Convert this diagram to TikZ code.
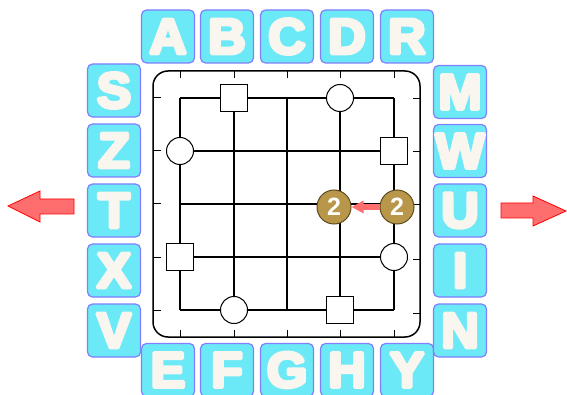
\documentclass[tikz,border=0pt]{standalone}
\usepackage{fontspec}
\usepackage{tikz}
\usetikzlibrary{arrows.meta, positioning}
\setsansfont{Liberation Sans}
\newfontfamily\tilefont{Liberation Sans}[FakeStretch=1.04, FakeBold=7]
\definecolor{tilecyan}{HTML}{6CE9F6}
\definecolor{tileedge}{HTML}{7F7FFF}
\definecolor{letterwhite}{HTML}{F9F6F0}
\definecolor{tokengold}{HTML}{B8974A}
\definecolor{tokenedge}{HTML}{5E4B1E}
\definecolor{arrowpink}{HTML}{FF6E6E}

\begin{document}
\begin{tikzpicture}[x=1pt, y=-1pt,
  tile/.style={draw=tileedge, line width=1.2pt, miter limit=1, fill=tilecyan, rounded corners=5pt, minimum size=53pt, inner sep=0pt, text=letterwhite, font=\tilefont\bfseries\fontsize{50}{50}\selectfont},
  board/.style={draw, line width=1.5pt, rounded corners=15pt, minimum width=267pt, minimum height=266pt, inner sep=0pt},
  piece/.style={draw, line width=1pt, fill=white, minimum size=27pt, inner sep=0pt},
  sq/.style={piece, rectangle},
  ring/.style={piece, circle},
  token/.style={circle, draw=tokenedge, line width=1pt, fill=tokengold, minimum size=34pt, inner sep=0pt, text=white, font=\sffamily\bfseries\fontsize{25}{25}\selectfont},
  gridline/.style={line width=1.1pt},
  boardtick/.style={line width=1pt},
  bigarrow/.style={draw=red, fill=arrowpink, line width=0.8pt},
  tokarrow/.style={-{Triangle[length=12pt, width=12pt]}, line width=6pt, arrowpink},
]
  \useasboundingbox (0,0) rectangle (567,395);

  % Letter tiles
  \foreach \l/\x in {A/168, B/227, C/287, D/347, R/407}
    \node[tile] (tile\l) at (\x,36.5) {\makebox[0pt]{\l}};
  \foreach \l/\x in {E/168, F/227, G/287, H/347, Y/407}
    \node[tile] (tile\l) at (\x,370) {\makebox[0pt]{\l}};
  \foreach \l/\y in {S/90.5, Z/150.5, T/210.5, X/270.5, V/330.5}
    \node[tile] (tile\l) at (114,\y) {\makebox[0pt]{\l}};
  \foreach \l/\y in {M/92, W/151, U/210.5, I/270.5, N/330.5}
    \node[tile] (tile\l) at (460,\y) {\makebox[0pt]{\l}};

  % Board
  \node[board] (board) at (286.5,204) {};
  \foreach \x in {180,234,287,340,394} {
    \draw[boardtick] (\x,71) -- (\x,78);
    \draw[boardtick] (\x,330) -- (\x,337);
  }
  \foreach \y in {98,151,204,257,310}
    \draw[boardtick] (153,\y) -- (161,\y);
  \foreach \y in {99,152,205,259,313}
    \draw[boardtick] (413,\y) -- (420,\y);

  % Grid
  \foreach \x in {180,234,287,340,394}
    \draw[gridline] (\x,98) -- (\x,310);
  \foreach \y in {98,151,204,257,310}
    \draw[gridline] (180,\y) -- (394,\y);

  % Pieces
  \node[sq] (sqA) at (234,98) {};
  \node[sq] (sqB) at (394,151) {};
  \node[sq] (sqC) at (180,257) {};
  \node[sq] (sqD) at (340,310) {};
  \node[ring] (ringA) at (340,98) {};
  \node[ring] (ringB) at (180,151) {};
  \node[ring] (ringC) at (394,257) {};
  \node[ring] (ringD) at (234,310) {};

  % Tokens
  \node[token] (tokA) at (334,207) {2};
  \node[token] (tokB) at (397,207) {2};
  \draw[tokarrow] (tokB) -- (tokA);

  % Side arrows
  \draw[bigarrow] (8,206) -- (40,191) -- (40,199) -- (74,199) -- (74,214) -- (40,214) -- (40,222) -- cycle;
  \draw[bigarrow] (566,211) -- (533,196) -- (533,203) -- (501,203) -- (501,218) -- (533,218) -- (533,226) -- cycle;
\end{tikzpicture}
\end{document}
